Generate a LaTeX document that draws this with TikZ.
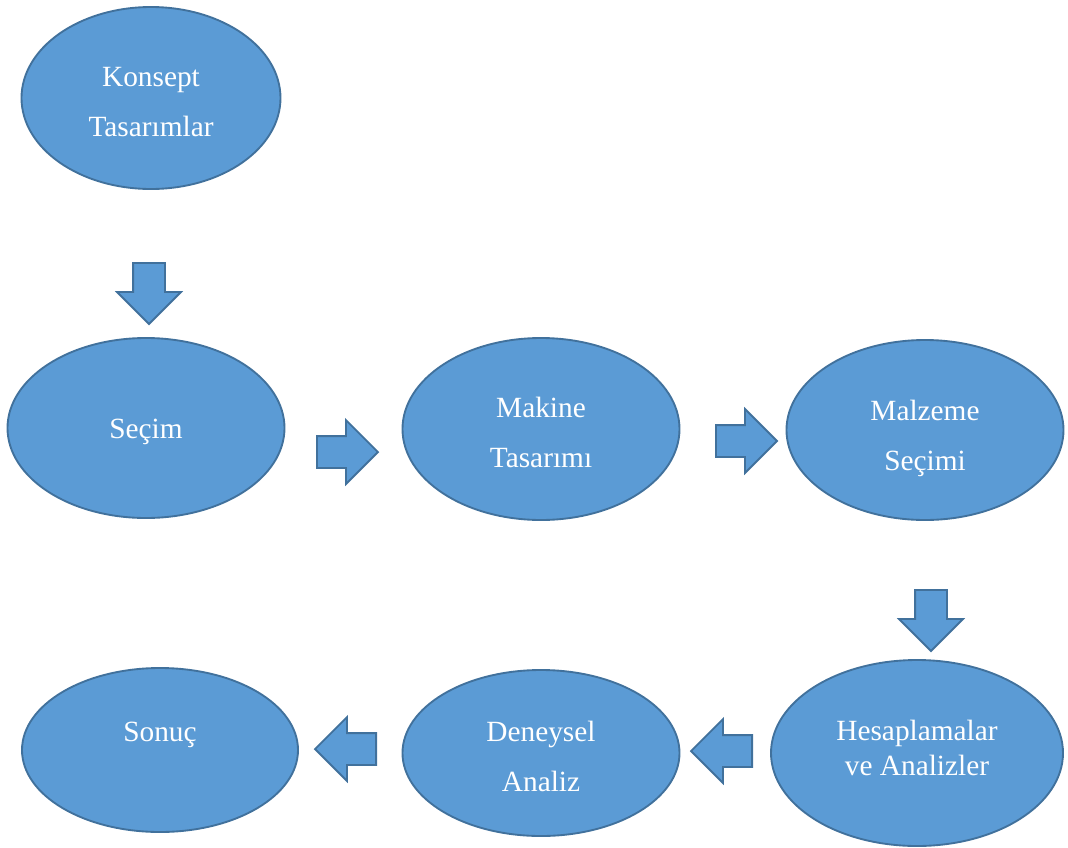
\documentclass[tikz,border=0pt]{standalone}
\usepackage{fontspec}
\setmainfont{Liberation Serif}
\usetikzlibrary{shapes.geometric,shapes.arrows}
\definecolor{stagefill}{HTML}{5B9BD5}
\definecolor{stageline}{HTML}{41719C}

\begin{document}
\begin{tikzpicture}[x=0.75pt, y=-0.75pt,
    stage/.style={ellipse, draw=stageline, fill=stagefill, line width=1.4pt, inner sep=0pt,
      text=white, align=center, text height=58pt, font=\fontsize{22}{37.5}\selectfont},
    flow/.style={single arrow, draw=stageline, fill=stagefill, line width=1.4pt, anchor=tail,
      inner sep=11.25pt, single arrow head extend=12pt, minimum height=45.75pt}]
  \useasboundingbox (0,0) rectangle (1068,847);

  % Stages (ellipses)
  \node[stage, minimum width=194.25pt, minimum height=136.5pt] (konsept) at (151,98) {Konsept\\Tasarımlar};
  \node[stage, minimum width=207.75pt, minimum height=135pt, text height=21pt] (secim) at (146,428) {Seçim};
  \node[stage, minimum width=207.75pt, minimum height=136.5pt] (makine) at (541,429) {Makine\\Tasarımı};
  \node[stage, minimum width=207.75pt, minimum height=135pt, text height=61pt, text depth=0pt] (malzeme) at (925,430) {Malzeme\\Seçimi};
  \node[stage, minimum width=219pt, minimum height=139.5pt, text height=34pt,
    font=\fontsize{22}{26.5}\selectfont] (hesap) at (917,753) {Hesaplamalar\\ve Analizler};
  \node[stage, minimum width=207.75pt, minimum height=124.5pt] (deneysel) at (541,753) {Deneysel\\Analiz};
  \node[stage, minimum width=207pt, minimum height=123pt, text height=61.5pt] (sonuc) at (160,750) {Sonuç\\\mbox{}};

  % Block arrows between stages (placed by their tails)
  \node[flow, shape border rotate=270] (a1) at (149,262) {};
  \node[flow] (a2) at (316,452) {};
  \node[flow] (a3) at (715,441) {};
  \node[flow, shape border rotate=270] (a4) at (931,589) {};
  \node[flow, shape border rotate=180] (a5) at (753,751) {};
  \node[flow, shape border rotate=180] (a6) at (377,749) {};
\end{tikzpicture}
\end{document}
